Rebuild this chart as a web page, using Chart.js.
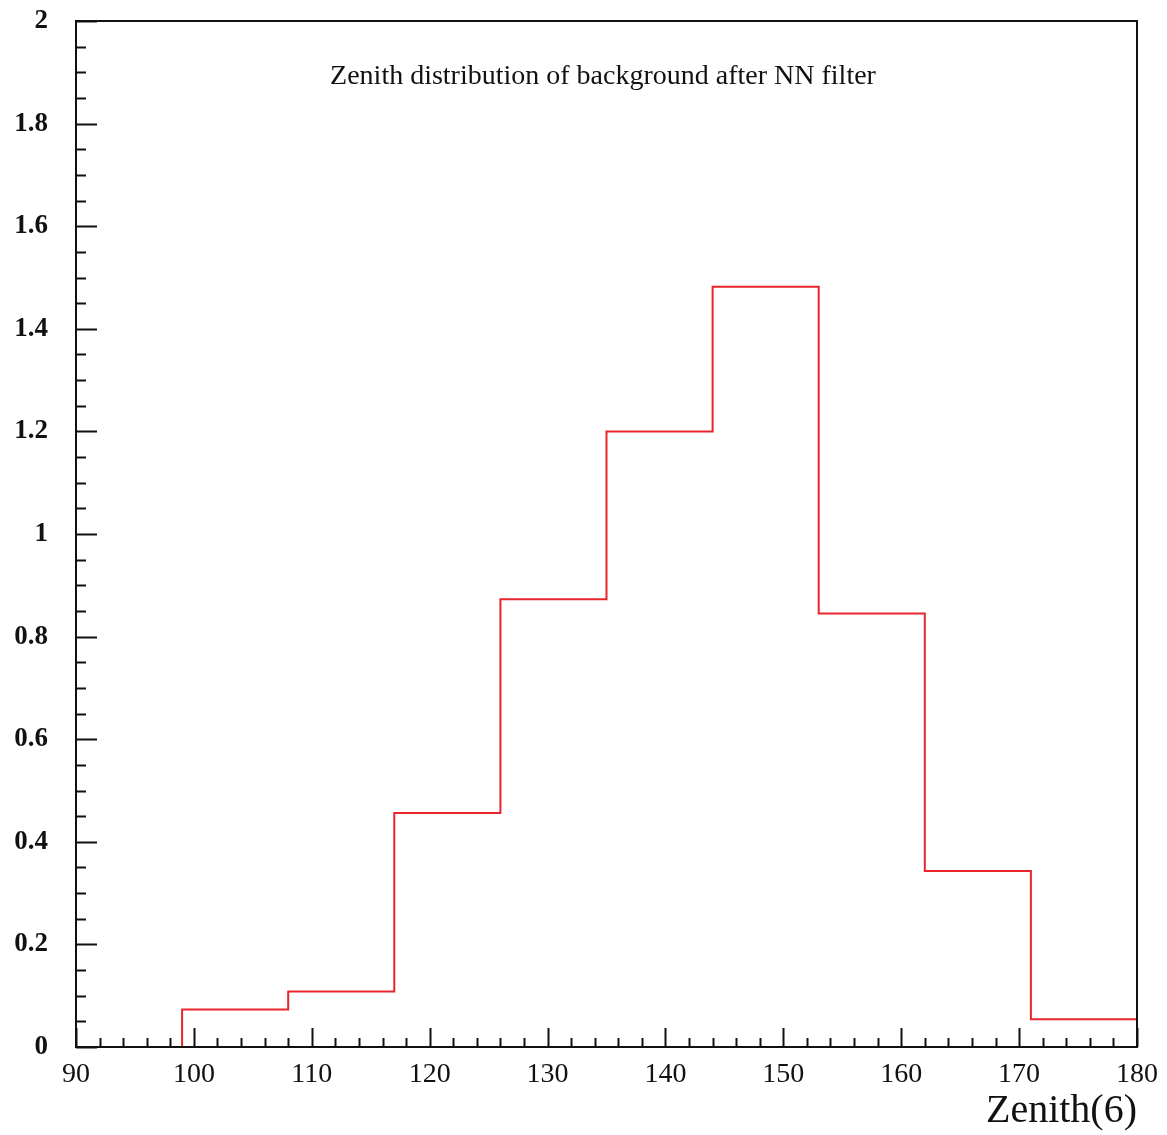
<!DOCTYPE html>
<html>
<head>
<meta charset="utf-8">
<script src="https://cdn.jsdelivr.net/npm/chart.js@4"></script>
<style>
  html, body { margin: 0; padding: 0; background: #fff; }
  #wrap { width: 1167px; height: 1135px; }
</style>
</head>
<body>
<div id="wrap"><canvas id="chart"></canvas></div>
<script>
// Histogram bins (zenith, degrees) and contents
const binEdges = [90, 99, 108, 117, 126, 135, 144, 153, 162, 171, 180];
const binValues = [0, 0.073, 0.108, 0.456, 0.873, 1.2, 1.482, 0.845, 0.343, 0.054];
const xTicks = [90, 100, 110, 120, 130, 140, 150, 160, 170, 180];
const yTicks = [0, 0.2, 0.4, 0.6, 0.8, 1, 1.2, 1.4, 1.6, 1.8, 2];
const yLabels = ['0', '0.2', '0.4', '0.6', '0.8', '1', '1.2', '1.4', '1.6', '1.8', '2'];

const serif = '"Liberation Serif", "DejaVu Serif", serif';

// step points: each bin edge gets the value of the bin that starts there
const points = binEdges.map((x, i) => ({ x: x, y: i < binValues.length ? binValues[i] : 0 }));

// ROOT-style inward ticks, title and frame
const rootFrame = {
  id: 'rootFrame',
  afterDraw(chart) {
    const { ctx, chartArea, scales } = chart;
    const a = chartArea;
    ctx.save();
    ctx.strokeStyle = '#111';
    ctx.lineWidth = 2;
    ctx.strokeRect(a.left, a.top, a.right - a.left, a.bottom - a.top);

    ctx.beginPath();
    for (let i = 0; i <= 40; i++) {
      const py = Math.round(scales.y.getPixelForValue(i * 0.05)) + 0.5;
      const len = i % 4 === 0 ? 21 : 10;
      ctx.moveTo(a.left, py);
      ctx.lineTo(a.left + len, py);
    }
    for (let v = 90; v <= 180; v += 2) {
      const px = Math.round(scales.x.getPixelForValue(v)) + 0.5;
      const len = v % 10 === 0 ? 19 : 9;
      ctx.moveTo(px, a.bottom);
      ctx.lineTo(px, a.bottom - len);
    }
    ctx.stroke();

    ctx.fillStyle = '#111';
    ctx.font = '28px ' + serif;
    ctx.textAlign = 'center';
    ctx.textBaseline = 'middle';
    ctx.fillText('Zenith distribution of background after NN filter', 603, 77);
    ctx.restore();
  }
};

new Chart(document.getElementById('chart'), {
  type: 'line',
  data: {
    datasets: [{
      data: points,
      stepped: 'before',
      borderColor: '#e8242c',
      borderWidth: 2,
      pointRadius: 0,
      fill: false
    }]
  },
  options: {
    responsive: true,
    maintainAspectRatio: false,
    animation: false,
    layout: { padding: { left: 0, top: 21, right: 30, bottom: 0 } },
    plugins: {
      legend: { display: false },
      tooltip: { enabled: false }
    },
    scales: {
      x: {
        type: 'linear',
        min: 90,
        max: 180,
        afterBuildTicks: (s) => { s.ticks = xTicks.map(v => ({ value: v })); },
        afterFit: (s) => { s.height = 88; s.paddingLeft = 0; s.paddingRight = 0; },
        grid: { display: false, drawTicks: false },
        border: { display: false },
        ticks: {
          padding: 11,
          color: '#111',
          font: { family: serif, size: 28 },
          maxRotation: 0
        },
        title: {
          display: true,
          text: 'Zenith(6)',
          align: 'end',
          color: '#111',
          font: { family: serif, size: 40 },
          padding: { top: 0, bottom: 0 }
        }
      },
      y: {
        min: 0,
        max: 2,
        afterBuildTicks: (s) => { s.ticks = yTicks.map(v => ({ value: v })); },
        afterFit: (s) => { s.width = 76; s.paddingTop = 0; s.paddingBottom = 0; },
        grid: { display: false, drawTicks: false },
        border: { display: false },
        ticks: {
          padding: 28,
          color: '#111',
          font: { family: serif, size: 27, weight: 'bold' },
          callback: (v, i) => yLabels[i]
        }
      }
    }
  },
  plugins: [rootFrame]
});
</script>
</body>
</html>
